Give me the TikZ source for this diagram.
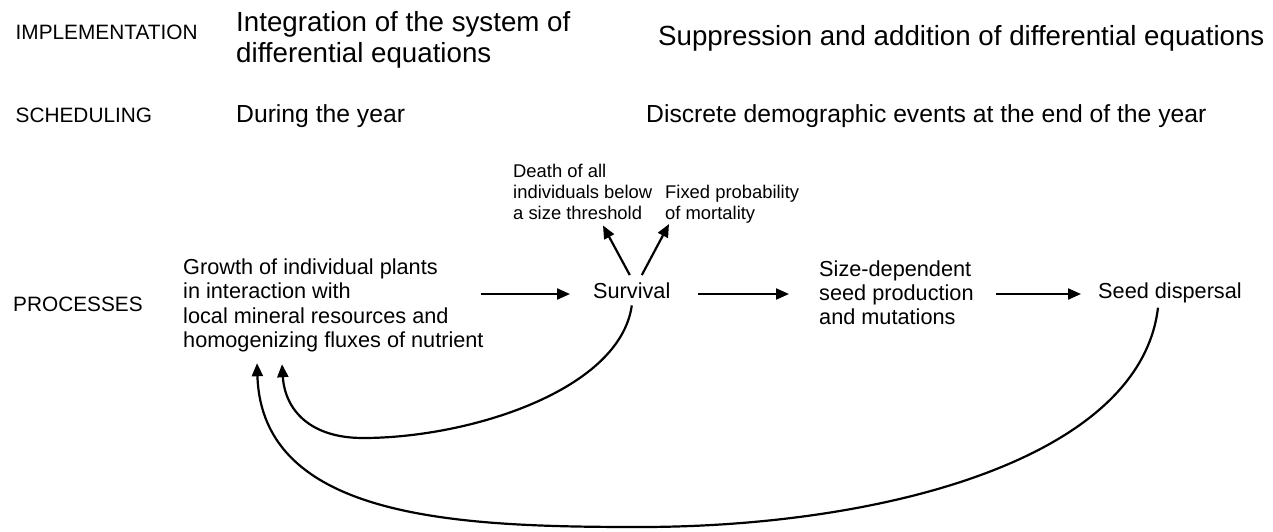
\documentclass[tikz,border=0pt]{standalone}
\usepackage{fontspec}
\setmainfont{Liberation Sans}
\usetikzlibrary{arrows.meta,calc}
\newcommand\fsz[2]{\fontsize{#1}{#2}\selectfont}
\begin{document}
\begin{tikzpicture}[x=1pt,y=-1pt,
  lbl/.style={inner sep=0pt, anchor=base west, font=\fsz{20.8}{24}},
  big/.style={inner sep=0pt, anchor=base west, font=\fsz{27.7}{31.3}},
  mid/.style={inner sep=0pt, anchor=base west, font=\fsz{24.7}{28}},
  proc/.style={inner sep=0pt, anchor=base west, font=\fsz{21.7}{24.4}},
  small/.style={inner sep=0pt, anchor=base west, font=\fsz{18.4}{21}},
  arr/.style={line width=2.2pt, -{Triangle[length=13pt,width=11pt]}},
  curve/.style={line width=2.2pt, -{Triangle[length=13pt,width=11pt]}},
]
\useasboundingbox (0,0) rectangle (1273,531);

\node[lbl] (impl) at (15.5,39) {IMPLEMENTATION};
\node[big] (integ) at (236,31) {\begin{tabular}[t]{@{}l@{}}Integration of the system of\\differential equations\end{tabular}};
\node[big] (suppr) at (658,45) {Suppression and addition of differential equations};

\node[lbl] (sched) at (15.5,122) {SCHEDULING};
\node[mid] (during) at (236,122) {During the year};
\node[mid] (discrete) at (646,122) {Discrete demographic events at the end of the year};

\node[lbl] (procs) at (13,311) {PROCESSES};
\node[proc] (growth) at (183,274.5) {\begin{tabular}[t]{@{}l@{}}Growth of individual plants\\in interaction with\\local mineral resources and\\homogenizing fluxes of nutrient\end{tabular}};
\node[proc] (surv) at (593,298) {Survival};
\node[proc] (size) at (819,276) {\begin{tabular}[t]{@{}l@{}}Size-dependent\\seed production\\and mutations\end{tabular}};
\node[proc] (seed) at (1098,298) {Seed dispersal};

\node[small] (death) at (513,177) {\begin{tabular}[t]{@{}l@{}}Death of all\\individuals below\\a size threshold\end{tabular}};
\node[small] (fixed) at (665,198.5) {\begin{tabular}[t]{@{}l@{}}Fixed probability\\of mortality\end{tabular}};

% straight arrows
\draw[arr] ($(growth.east |- surv.base)+(-3,-4)$) -- ($(surv.base west)+(-23,-4)$);
\draw[arr] ($(surv.base east)+(27,-4)$) -- ($(size.west |- surv.base)+(-30,-4)$);
\draw[arr] ($(size.east |- seed.base)+(22,-4)$) -- ($(seed.base west)+(-17,-4)$);

% arrows to mortality rules
\draw[arr] ($(surv.north)+(-2,-7)$) -- ($(death.south west)+(90,0)$);
\draw[arr] ($(surv.north)+(10,-7)$) -- ($(fixed.south west)+(4,-2)$);

% feedback curves
\coordinate (g1) at ($(growth.south west)+(99,9)$);
\coordinate (g2) at ($(growth.south west)+(74,8)$);
\coordinate (b1) at (363,438);
\coordinate (b2) at (640,527);
\draw[curve] ($(surv.south)+(0,7)$) .. controls (620,390) and (470,438) .. (b1) .. controls (310,438) and (285,410) .. (g1);
\draw[curve] ($(seed.south)+(-12,5)$) .. controls (1140,460) and (880,527) .. (b2) .. controls (460,527) and (262,520) .. (g2);
\end{tikzpicture}
\end{document}
